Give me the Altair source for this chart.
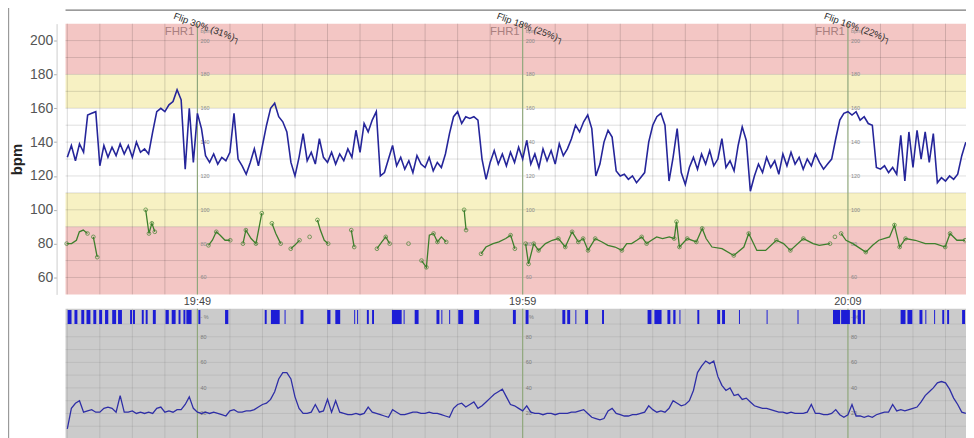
import altair as alt
import pandas as pd

# ---------------- time axis (minutes relative to 19:49) ----------------
T_LEFT, T_RIGHT = -4.055, 23.63
FRAME_T = -5.81
MAJOR_T = [0, 10, 20]
MAJOR_LABELS = ["19:49", "19:59", "20:09"]
FLIP_T = [-0.67, 9.27, 19.33]
FLIP_TEXT = ["Flip 30% (31%)┐", "Flip 18% (25%)┐", "Flip 16% (22%)┐"]
MINUTES = list(range(-4, 24))

# traces sampled every 7.5 s (0.125 min) from 19:45:00
SAMPLE_START = -4.0
SAMPLE_STEP = 0.125

fhr = [131, 138, 129, 139, 134, 156, 157, 158, 126, 138,
       131, 137, 132, 139, 133, 138, 131, 140, 134, 136,
       133, 146, 158, 160, 158, 162, 164, 171, 165, 124,
       160, 128, 157, 148, 132, 128, 133, 127, 131, 129,
       134, 157, 130, 126, 121, 128, 136, 126, 138, 150,
       160, 163, 155, 152, 146, 128, 120, 131, 145, 129,
       134, 127, 142, 131, 128, 134, 127, 133, 129, 136,
       131, 147, 134, 151, 146, 153, 158, 120, 122, 130,
       138, 126, 131, 124, 129, 122, 132, 127, 125, 131,
       123, 128, 125, 133, 145, 155, 158, 151, 155, 154,
       155, 153, 130, 118, 128, 135, 127, 133, 126, 134,
       128, 137, 130, 141, 127, 133, 125, 136, 129, 135,
       127, 139, 132, 136, 142, 150, 146, 152, 156, 148,
       120, 127, 140, 147, 143, 123, 120, 121, 118, 120,
       116, 119, 122, 140, 150, 155, 157, 150, 117, 131,
       148, 122, 115, 125, 131, 124, 133, 127, 135, 126,
       130, 142, 125, 129, 123, 138, 149, 141, 111, 120,
       127, 122, 131, 125, 129, 121, 133, 126, 134, 127,
       131, 124, 130, 126, 133, 128, 124, 127, 130, 142,
       153, 157, 158, 156, 158, 153, 155, 151, 150, 125,
       124, 126, 122, 125, 121, 144, 117, 146, 125, 147,
       130, 146, 128, 145, 116, 119, 117, 120, 118, 121,
       132, 140]

toco = [8, 24, 28, 30, 21, 22, 23, 21, 21, 24,
        25, 24, 21, 34, 21, 21, 22, 20, 21, 20,
        21, 20, 24, 25, 21, 22, 21, 23, 23, 27,
        33, 24, 21, 20, 21, 20, 21, 20, 19, 18,
        22, 23, 21, 21, 22, 22, 23, 25, 27, 28,
        31, 37, 47, 52, 52, 47, 33, 24, 20, 20,
        21, 27, 21, 22, 31, 21, 30, 21, 20, 19,
        19, 20, 19, 20, 25, 21, 20, 19, 18, 17,
        23, 21, 19, 19, 20, 21, 21, 20, 20, 21,
        20, 20, 19, 18, 17, 24, 27, 28, 25, 27,
        29, 24, 26, 29, 32, 35, 37, 39, 33, 27,
        26, 24, 22, 26, 21, 20, 20, 19, 20, 20,
        19, 20, 20, 20, 21, 21, 22, 23, 20, 17,
        16, 15, 16, 22, 24, 20, 19, 18, 18, 19,
        19, 20, 21, 26, 23, 21, 22, 21, 24, 30,
        28, 26, 27, 30, 38, 52, 57, 61, 59, 61,
        49, 42, 38, 40, 34, 35, 31, 32, 29, 26,
        25, 24, 24, 23, 22, 21, 21, 20, 21, 20,
        20, 20, 21, 27, 20, 20, 19, 19, 20, 23,
        19, 17, 19, 27, 18, 18, 17, 18, 17, 19,
        20, 21, 21, 27, 22, 23, 22, 23, 24, 25,
        29, 34, 37, 40, 44, 45, 44, 39, 32, 27,
        21, 20]

# maternal heart rate: broken segments (minutes, bpm)
mhr_segments = [
    ([-4.02, -3.87, -3.72, -3.63, -3.51, -3.38], [80, 80, 82, 87, 88, 86]),
    ([-3.20, -3.08], [84, 72]),
    ([-1.59, -1.49, -1.40, -1.31], [100, 86, 92, 87]),
    ([0.34, 0.46, 0.58, 0.70, 0.85, 1.01], [79, 82, 87, 85, 82, 82]),
    ([1.40, 1.49, 1.65, 1.80, 1.92, 1.98], [80, 88, 83, 80, 92, 98]),
    ([2.29, 2.41, 2.56], [92, 86, 80]),
    ([2.87, 2.99, 3.14], [77, 79, 82]),
    ([3.45], [84]),
    ([3.69, 3.78, 3.90, 4.02], [94, 88, 82, 80]),
    ([4.73, 4.82], [88, 78]),
    ([5.52, 5.67, 5.79, 5.91], [77, 81, 84, 80]),
    ([6.49], [80]),
    ([6.89, 7.04, 7.13, 7.26, 7.38, 7.50, 7.65], [70, 66, 85, 86, 81, 84, 81]),
    ([8.20, 8.26], [100, 88]),
    ([8.72, 8.87, 9.09, 9.27, 9.48, 9.63, 9.76], [74, 78, 80, 81, 83, 85, 77]),
    ([10.09, 10.18, 10.34, 10.49, 10.70, 10.91, 11.10, 11.31, 11.52, 11.71,
      11.86, 12.01, 12.23, 12.44, 12.62, 12.84, 13.05, 13.20, 13.35, 13.51,
      13.66, 13.81, 13.96, 14.12, 14.30, 14.51, 14.66, 14.73, 14.82, 15.06,
      15.34, 15.52, 15.64, 15.82, 16.13, 16.49, 16.80, 16.95, 17.20, 17.47,
      17.80, 18.02, 18.23, 18.63, 18.93, 19.12, 19.45],
     [80, 68, 80, 76, 80, 82, 83, 78, 87, 81,
      83, 76, 83, 81, 79, 78, 76, 80, 80, 82,
      84, 80, 82, 84, 83, 84, 83, 93, 78, 83,
      81, 89, 83, 78, 77, 73, 78, 86, 76, 76,
      82, 80, 76, 83, 80, 79, 80]),
    ([19.60], [84]),
    ([19.79, 19.94, 20.15, 20.55, 20.76, 20.95, 21.28, 21.43, 21.59, 21.77,
      22.07, 22.38, 22.68, 22.99, 23.14, 23.35, 23.60],
     [86, 82, 80, 75, 79, 82, 84, 91, 78, 83, 82, 80, 80, 78, 86, 82, 82]),
]

# fetal movement marks (start, end in minutes)
move_start = [-3.99, -3.78, -3.57, -3.41, -3.20, -3.02, -2.84, -2.62, -2.44, -2.07,
              -1.98, -1.71, -1.59, -1.37, -0.98, -0.79, -0.58, -0.43, -0.34, 0.03,
              0.85, 2.07, 2.26, 2.68, 3.17, 3.99, 4.24, 4.82, 4.91, 5.21,
              5.37, 5.98, 6.34, 6.68, 7.35, 7.50, 7.74, 8.02, 8.51, 9.70,
              10.09, 11.22, 11.37, 11.62, 11.92, 12.44, 13.84, 14.05, 14.45, 14.63,
              14.82, 15.37, 15.98, 16.13, 16.65, 17.50, 18.45, 19.54, 19.79, 20.15,
              20.30, 20.46, 21.62, 21.83, 22.20, 22.38, 22.65, 22.90, 23.05, 23.51]
move_end = [-3.87, -3.69, -3.48, -3.29, -3.11, -2.93, -2.74, -2.50, -2.32, -2.01,
            -1.92, -1.65, -1.53, -1.28, -0.88, -0.67, -0.52, -0.37, -0.18, 0.09,
            0.95, 2.13, 2.53, 2.71, 3.26, 4.09, 4.39, 4.85, 4.94, 5.27,
            5.43, 6.28, 6.37, 6.80, 7.44, 7.53, 7.77, 8.17, 8.66, 9.79,
            10.18, 11.31, 11.46, 11.65, 12.01, 12.50, 13.96, 14.27, 14.54, 14.70,
            14.85, 15.43, 16.07, 16.22, 16.68, 17.53, 18.48, 19.76, 20.06, 20.24,
            20.40, 20.52, 21.77, 21.98, 22.29, 22.41, 22.68, 22.96, 23.11, 23.60]

BAND_LO = [180, 160, 110, 90, 50]
BAND_HI = [210, 180, 160, 110, 90]
BAND_COLOR = ["#f3c6c4", "#f7f1c3", "#ffffff", "#f7f1c3", "#f3c6c4"]
BPM_TICKS = [60, 80, 100, 120, 140, 160, 180, 200]
BPM_GRID = list(range(60, 210, 10))
TOCO_GRID = list(range(10, 100, 10))
TOCO_TICKS = [80, 60, 40, 20]

FONT = "Liberation Sans"
FHR_COLOR = "#25259a"
MHR_COLOR = "#3d7f2c"
TOCO_COLOR = "#2e2ea6"
MOVE_COLOR = "#1c1cd6"
MAJOR_COLOR = "#8fa77c"

# ---------------- data frames ----------------
ts = [SAMPLE_START + SAMPLE_STEP * i for i in range(len(fhr))]
fhr_df = pd.DataFrame({"t": ts, "v": fhr})
toco_df = pd.DataFrame({"t": ts[:len(toco)], "v": toco})

rows = []
for k, (st, sv) in enumerate(mhr_segments):
    n = len(st)
    for j in range(n):
        is_end = j == 0 or j == n - 1
        is_ext = False
        if 0 < j < n - 1:
            a, b = sv[j] - sv[j - 1], sv[j] - sv[j + 1]
            is_ext = a * b > 0 and max(abs(a), abs(b)) >= 4
        rows.append({"t": st[j], "v": sv[j], "seg": k, "mark": bool(is_end or is_ext)})
mhr_df = pd.DataFrame(rows)
mhr_marks = mhr_df[mhr_df["mark"]]

bands_df = pd.DataFrame({"lo": BAND_LO, "hi": BAND_HI, "c": BAND_COLOR,
                         "t": T_LEFT, "t2": T_RIGHT})
bgrid_df = pd.DataFrame({"v": BPM_GRID, "t": T_LEFT, "t2": T_RIGHT})
minor_df = pd.DataFrame({"t": [m for m in MINUTES if m not in MAJOR_T]})
major_df = pd.DataFrame({"t": MAJOR_T, "lab": MAJOR_LABELS})
tgrid_df = pd.DataFrame({"v": TOCO_GRID, "t": T_LEFT, "t2": T_RIGHT})
move_df = pd.DataFrame({"t": move_start, "t2": move_end})
flip_df = pd.DataFrame({"t": FLIP_T, "txt": FLIP_TEXT})
tiny_top = pd.DataFrame([{"t": m, "v": v, "txt": str(v)} for m in MAJOR_T for v in BPM_TICKS]
                        + [{"t": m, "v": 205.5, "txt": "bpm"} for m in MAJOR_T])
tiny_bot = pd.DataFrame([{"t": m, "v": v, "txt": str(v)} for m in MAJOR_T for v in TOCO_TICKS]
                        + [{"t": m, "v": 95.5, "txt": "-  %"} for m in MAJOR_T])
frame_df = pd.DataFrame({"t": [T_LEFT], "t2": [T_RIGHT]})
border_df = pd.DataFrame({"t": [FRAME_T]})

# ---------------- scales ----------------
xs = alt.Scale(domain=[T_LEFT, T_RIGHT], nice=False, zero=False)
bpm = alt.Scale(domain=[50, 210], range=[287, 14], nice=False, zero=False)
tcs = alt.Scale(domain=[0, 100], range=[432.8, 304], nice=False, zero=False)


def X(f="t"):
    return alt.X(f"{f}:Q", scale=xs, axis=None)


def Yb(f="v"):
    return alt.Y(f"{f}:Q", scale=bpm, axis=None)


def Yt(f="v"):
    return alt.Y(f"{f}:Q", scale=tcs, axis=None)


layers = []

# colored bands with the bpm axis
layers.append(alt.Chart(bands_df).mark_rect().encode(
    x=X(), x2="t2:Q",
    y=alt.Y("lo:Q", scale=bpm, axis=alt.Axis(
        values=BPM_TICKS, title="bpm", titleFont=FONT, titleFontSize=15,
        titleFontWeight="bold", titleColor="#222", labelFont=FONT, labelFontSize=14,
        labelColor="#555", domainColor="#cccccc", tickColor="#aaaaaa", tickSize=3,
        offset=9, labelPadding=1, titlePadding=5, grid=False)),
    y2="hi:Q",
    color=alt.Color("c:N", scale=None)))

# top grid
layers.append(alt.Chart(bgrid_df).mark_rule(color="#000", opacity=0.13, strokeWidth=1).encode(
    x=X(), x2="t2:Q", y=Yb()))
layers.append(alt.Chart(minor_df).mark_rule(color="#000", opacity=0.15, strokeWidth=1).encode(
    x=X(), y=alt.Y("lo:Q", scale=bpm, axis=None), y2="hi:Q").transform_calculate(lo="50", hi="210"))

# bottom panel
layers.append(alt.Chart(frame_df).mark_rect(color="#cbcbcb").encode(
    x=X(), x2="t2:Q", y=alt.Y("lo:Q", scale=tcs, axis=None), y2="hi:Q"
).transform_calculate(lo="0", hi="102"))
layers.append(alt.Chart(tgrid_df).mark_rule(color="#000", opacity=0.08, strokeWidth=1).encode(
    x=X(), x2="t2:Q", y=Yt()))
layers.append(alt.Chart(minor_df).mark_rule(color="#000", opacity=0.09, strokeWidth=1).encode(
    x=X(), y=alt.Y("lo:Q", scale=tcs, axis=None), y2="hi:Q").transform_calculate(lo="0", hi="102"))

# major time lines
layers.append(alt.Chart(major_df).mark_rule(color=MAJOR_COLOR, strokeWidth=1.2).encode(
    x=X(), y=alt.Y("lo:Q", scale=bpm, axis=None), y2="hi:Q").transform_calculate(lo="50", hi="210"))
layers.append(alt.Chart(major_df).mark_rule(color=MAJOR_COLOR, strokeWidth=1.2).encode(
    x=X(), y=alt.Y("lo:Q", scale=tcs, axis=None), y2="hi:Q").transform_calculate(lo="0", hi="102"))

# header line and left frame
layers.append(alt.Chart(frame_df).mark_rule(color="#7a7a7a", strokeWidth=1.5).encode(
    x=X(), x2="t2:Q", y=alt.Y("h:Q", scale=bpm, axis=None)).transform_calculate(h="218"))
layers.append(alt.Chart(border_df).mark_rule(color="#9a9a9a", strokeWidth=1.5).encode(
    x=X(), y=alt.Y("lo:Q", scale=tcs, axis=None), y2="hi:Q").transform_calculate(lo="0", hi="340"))

# small labels
layers.append(alt.Chart(tiny_top).mark_text(font=FONT, fontSize=5.5, color="#8a8a8a",
                                            align="left", dx=3, baseline="middle").encode(
    x=X(), y=Yb(), text="txt:N"))
layers.append(alt.Chart(tiny_bot).mark_text(font=FONT, fontSize=5.5, color="#7a7a7a",
                                            align="left", dx=3, baseline="middle").encode(
    x=X(), y=Yt(), text="txt:N"))
layers.append(alt.Chart(major_df).mark_text(font=FONT, fontSize=11.5, color="#a97f7f",
                                            align="right", dx=-3, baseline="middle").encode(
    x=X(), y=alt.Y("h:Q", scale=bpm, axis=None), text=alt.value("FHR1")).transform_calculate(h="205"))
layers.append(alt.Chart(major_df).mark_text(font=FONT, fontSize=11, color="#444",
                                            align="center", baseline="middle").encode(
    x=X(), y=alt.Y("h:Q", scale=bpm, axis=None), text="lab:N").transform_calculate(h="45.3"))
layers.append(alt.Chart(flip_df).mark_text(font=FONT, fontSize=9.5, color="#2a2a2a", angle=20,
                                           align="left", baseline="top").encode(
    x=X(), y=alt.Y("h:Q", scale=bpm, axis=None), text="txt:N").transform_calculate(h="217.4"))

# traces
layers.append(alt.Chart(fhr_df).mark_line(color=FHR_COLOR, strokeWidth=1.6).encode(
    x=X(), y=Yb()))
layers.append(alt.Chart(mhr_df).mark_line(color=MHR_COLOR, strokeWidth=1.3).encode(
    x=X(), y=Yb(), detail="seg:N"))
layers.append(alt.Chart(mhr_marks).mark_point(color=MHR_COLOR, size=14, strokeWidth=1,
                                              filled=False).encode(x=X(), y=Yb()))
layers.append(alt.Chart(toco_df).mark_line(color=TOCO_COLOR, strokeWidth=1.3).encode(
    x=X(), y=Yt()))
layers.append(alt.Chart(move_df).mark_rect(color=MOVE_COLOR).encode(
    x=X(), x2="t2:Q", y=alt.Y("lo:Q", scale=tcs, axis=None), y2="hi:Q"
).transform_calculate(lo="90", hi="101"))

chart = alt.layer(*layers).resolve_scale(y="independent").properties(
    width=908, height=430,
    autosize=alt.AutoSizeParams(type="none"),
    padding={"left": 58, "top": 0, "right": 0, "bottom": 0},
    background="white",
).configure_view(strokeWidth=0)

chart.save("out.html", embed_options={"renderer": "svg", "actions": False})
